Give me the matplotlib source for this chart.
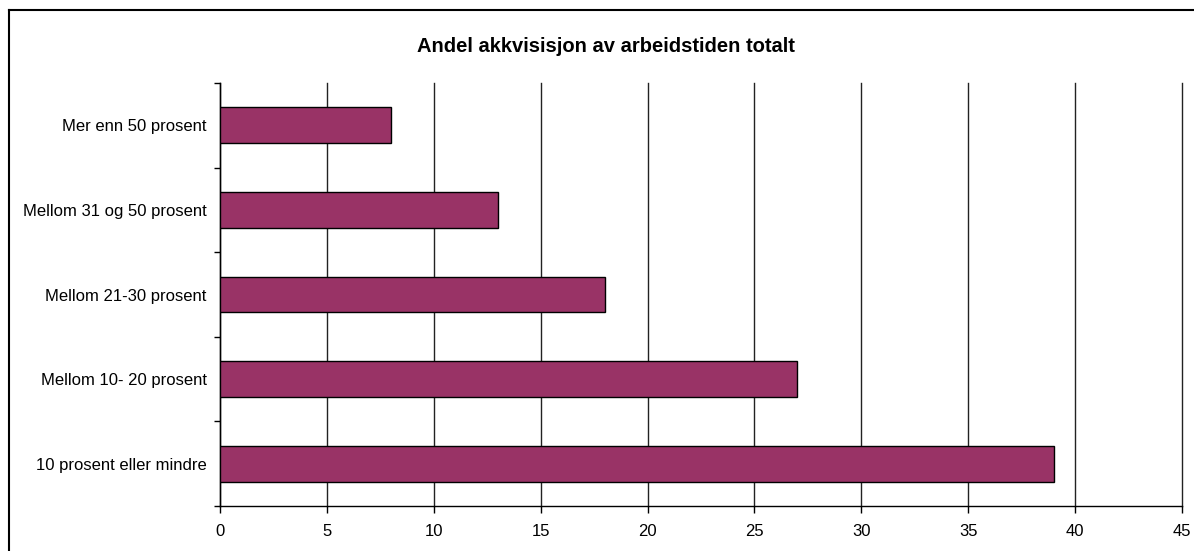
import matplotlib
matplotlib.use("Agg")
from matplotlib import pyplot as plt
from matplotlib.lines import Line2D
import numpy as np

categories = ["10 prosent eller mindre", "Mellom 10- 20 prosent", "Mellom 21-30 prosent",
              "Mellom 31 og 50 prosent", "Mer enn 50 prosent"]
values = [39, 27, 18, 13, 8]
x_ticks = [0, 5, 10, 15, 20, 25, 30, 35, 40, 45]
title = "Andel akkvisisjon av arbeidstiden totalt"

plt.rcParams['font.family'] = ['Liberation Sans', 'DejaVu Sans']

fig = plt.figure(figsize=(11.94, 5.51), dpi=100)
ax = fig.add_axes([220 / 1194, 45 / 551, 962 / 1194, 423 / 551])

y = np.arange(len(categories))
ax.barh(y, values, height=0.425, color='#993366', edgecolor='black', linewidth=1, zorder=3)

ax.set_xlim(0, 45)
ax.set_ylim(-0.5, len(categories) - 0.5)
ax.set_xticks(x_ticks)
ax.set_xticklabels([str(t) for t in x_ticks], fontsize=12)
ax.set_yticks(y)
ax.set_yticklabels(categories, fontsize=12)
ax.tick_params(axis='y', length=0, pad=9.5)
ax.set_yticks(np.arange(-0.5, len(categories)), minor=True)
ax.tick_params(axis='y', which='minor', length=4, width=1, direction='out')
ax.tick_params(axis='x', length=5, width=1, direction='out', pad=8)

ax.grid(axis='x', color='#222222', linewidth=1, zorder=0)
for gl in ax.get_xgridlines():
    gl.set_clip_on(False)
ax.spines['top'].set_visible(False)
ax.spines['right'].set_visible(False)
ax.spines['left'].set_linewidth(1)
ax.spines['bottom'].set_linewidth(1)

fig.text(606 / 1194, 1 - 46 / 551, title, ha='center', va='center', fontsize=14.5, fontweight='bold')

# outer chart border (top and left visible)
fig.add_artist(Line2D([9 / 1194, 1.0], [1 - 10 / 551, 1 - 10 / 551], color='black', linewidth=1.5,
                      transform=fig.transFigure))
fig.add_artist(Line2D([9 / 1194, 9 / 1194], [0.0, 1 - 10 / 551], color='black', linewidth=1.5,
                      transform=fig.transFigure))

fig.savefig("out.png", dpi=100)
